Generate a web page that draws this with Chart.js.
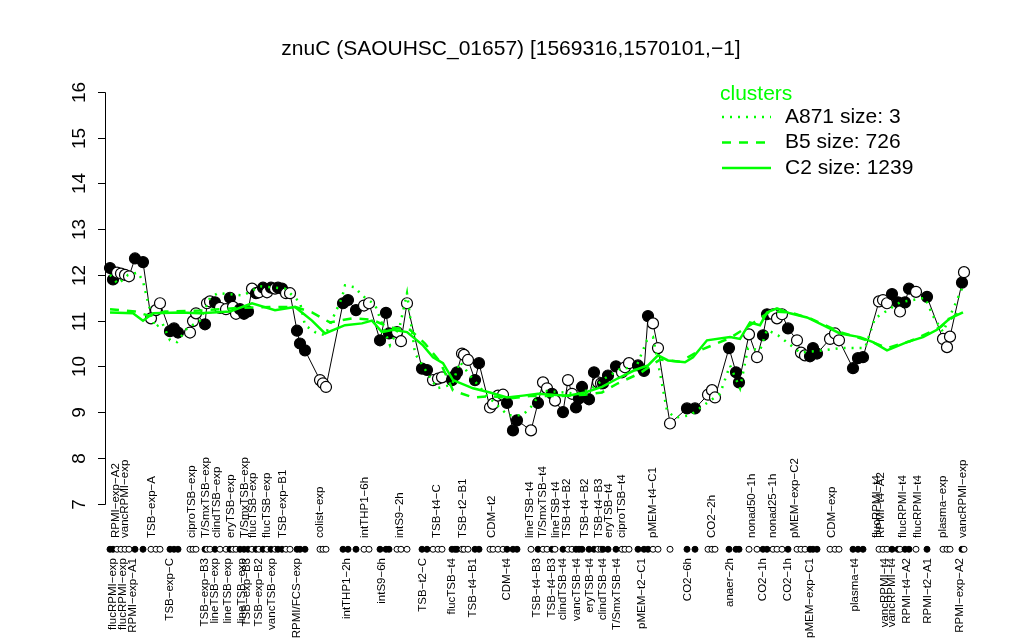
<!DOCTYPE html>
<html>
<head>
<meta charset="utf-8">
<script src="https://cdn.jsdelivr.net/npm/chart.js@4/dist/chart.umd.min.js"></script>
<style>
    html, body { margin: 0; background: #fff; }
</style>
</head>
<body>
<canvas id="chart" width="1024" height="640"></canvas>
<script>
// sample order position, expression value, dark (1) or open (0) marker
const sampleX = [1.0, 1.6, 2.4, 3.2, 4.0, 4.8, 6.0, 7.6, 9.2, 10.2, 11.0, 13.0, 13.8, 14.6, 17.0, 17.6, 18.2,
    20.0, 20.4, 21.0, 22.0, 23.0, 24.2, 25.0, 25.6, 26.2, 27.0, 27.8, 28.6, 29.4, 30.2, 30.8, 31.6, 32.4, 33.2,
    34.0, 34.6, 35.4, 36.2, 37.0, 38.4, 39.0, 40.0, 43.0, 43.6, 44.2, 47.6, 48.6, 50.2, 51.8, 52.8, 55.0, 56.2,
    56.8, 58.4, 59.2, 60.4, 63.4, 64.4, 65.6, 66.6, 67.4, 69.4, 70.0, 70.4, 71.4, 71.8, 72.6, 74.0, 74.8, 77.0,
    77.6, 78.6, 79.6, 80.4, 81.6, 82.4, 85.2, 86.6, 87.6, 88.4, 89.4, 90.0, 91.6, 92.6, 93.4, 94.2, 94.8, 95.4,
    96.8, 97.8, 98.6, 99.2, 99.6, 100.6, 102.2, 103.4, 104.0, 104.8, 106.6, 107.8, 108.6, 109.6, 110.6, 113.0,
    116.4, 118.0, 120.6, 121.4, 122.0, 124.8, 126.2, 126.8, 128.8, 130.4, 131.6, 132.4, 133.6, 134.4, 135.4,
    136.6, 138.4, 139.2, 140.0, 141.0, 141.6, 142.4, 145.0, 146.0, 146.8, 149.6, 150.6, 151.6, 154.8, 155.6,
    156.4, 157.4, 158.6, 159.0, 160.0, 160.8, 162.2, 164.4, 167.6, 168.4, 169.0, 171.4, 171.8];
const sampleValue = [12.15, 11.9, 12.05, 12.03, 12.0, 11.97, 12.36, 12.28, 11.05, 11.23, 11.38, 10.77, 10.83,
    10.74, 10.74, 10.99, 11.16, 10.92, 11.38, 11.42, 11.4, 11.28, 11.25, 11.5, 11.3, 11.15, 11.25, 11.15, 11.2,
    11.7, 11.6, 11.62, 11.72, 11.62, 11.72, 11.7, 11.72, 11.7, 11.6, 11.6, 10.78, 10.5, 10.35, 9.7, 9.63, 9.55,
    11.38, 11.45, 11.23, 11.33, 11.38, 10.57, 11.17, 10.72, 10.75, 10.55, 11.38, 9.95, 9.92, 9.7, 9.73, 9.76,
    9.7, 9.8, 9.87, 10.28, 10.25, 10.14, 9.7, 10.07, 9.1, 9.18, 9.36, 9.38, 9.2, 8.6, 8.82, 8.6, 9.2, 9.65,
    9.52, 9.4, 9.25, 9.0, 9.7, 9.4, 9.1, 9.3, 9.55, 9.28, 9.87, 9.65, 9.63, 9.63, 9.8, 10.0, 9.87, 9.98, 10.07,
    10.02, 9.9, 11.1, 10.94, 10.4, 8.75, 9.08, 9.08, 9.38, 9.48, 9.32, 10.4, 9.87, 9.65, 10.7, 10.2, 10.68,
    11.14, 11.14, 11.05, 11.14, 10.83, 10.57, 10.3, 10.24, 10.22, 10.4, 10.28, 10.6, 10.72, 10.57, 9.96,
    10.18, 10.2, 11.42, 11.45, 11.38, 11.58, 11.4, 11.2, 11.4, 11.7, 11.63, 11.52, 10.6, 10.42, 10.65, 11.83,
    12.06];
const sampleDark = [1, 1, 0, 0, 0, 0, 1, 1, 0, 0, 0, 1, 1, 1, 0, 0, 0, 1, 0, 0, 1, 0, 0, 1, 0, 0, 1, 1, 1,
    0, 1, 0, 1, 0, 1, 0, 1, 1, 0, 0, 1, 1, 1, 0, 0, 0, 1, 1, 1, 0, 0, 1, 1, 1, 0, 0, 0, 1, 1, 0, 0, 0, 1, 1,
    1, 0, 0, 0, 1, 1, 0, 0, 0, 0, 1, 1, 1, 0, 1, 0, 0, 1, 0, 1, 0, 0, 1, 1, 1, 1, 1, 0, 0, 1, 1, 1, 0, 0, 0,
    1, 1, 1, 0, 0, 0, 1, 1, 0, 0, 0, 1, 1, 1, 0, 0, 1, 1, 0, 0, 0, 1, 0, 0, 0, 1, 1, 1, 0, 0, 0, 1, 1, 1, 0,
    0, 0, 1, 1, 0, 1, 1, 0, 1, 0, 0, 0, 1, 0];

// cluster profiles
const clusterA871X = [1.0, 2.6, 4.6, 6.6, 7.6, 8.6, 10.0, 11.4, 13.0, 14.4, 16.4, 19.0, 21.0, 22.6, 27.6, 31.0,
    36.0, 39.0, 40.0, 42.0, 44.0, 46.0, 47.4, 48.0, 50.0, 51.4, 54.0, 57.0, 59.0, 60.4, 62.0, 66.4, 69.4, 71.0,
    73.0, 76.4, 80.6, 83.4, 85.0, 87.4, 94.6, 97.4, 100.0, 103.6, 106.0, 108.4, 109.6, 111.0, 112.4, 114.0,
    117.0, 120.4, 123.0, 125.0, 127.0, 128.6, 131.0, 132.4, 134.6, 139.0, 143.6, 147.0, 152.0, 154.0, 159.0,
    164.0, 165.6, 167.6, 170.6, 171.4];
const clusterA871Y = [12.0, 11.8, 12.0, 12.05, 11.86, 11.4, 10.85, 10.96, 10.57, 10.53, 10.83, 11.0, 11.5,
    11.6, 11.55, 11.75, 11.7, 11.4, 10.9, 10.75, 10.68, 11.16, 11.5, 11.77, 11.73, 11.55, 11.35, 10.46, 10.9,
    11.6, 10.28, 9.52, 9.6, 10.1, 9.8, 9.36, 8.93, 8.93, 9.08, 9.47, 9.4, 9.52, 9.74, 9.98, 9.92, 10.57,
    10.64, 9.85, 9.03, 8.88, 8.93, 9.2, 9.4, 10.02, 9.52, 10.4, 10.35, 10.8, 10.68, 10.3, 10.35, 10.4, 10.4,
    11.05, 11.4, 11.5, 11.1, 10.75, 11.5, 11.7];
const clusterB5X = [1.0, 6.0, 9.0, 12.0, 19.0, 27.0, 33.0, 38.0, 41.4, 45.0, 49.4, 53.4, 57.0, 61.0, 64.0,
    67.0, 69.6, 73.6, 77.0, 81.0, 85.0, 91.0, 96.0, 99.4, 102.6, 107.0, 111.0, 115.0, 119.0, 125.0, 129.0,
    133.0, 137.0, 141.0, 147.0, 153.0, 156.4, 161.0, 167.0, 171.6];
const clusterB5Y = [11.25, 11.2, 11.1, 11.2, 11.22, 11.28, 11.3, 11.3, 11.18, 10.96, 11.05, 11.02, 10.85,
    10.8, 10.5, 10.1, 9.47, 9.32, 9.35, 9.3, 9.35, 9.35, 9.38, 9.43, 9.63, 9.85, 10.15, 10.1, 10.35, 10.62,
    10.9, 11.2, 11.18, 11.05, 10.75, 10.55, 10.4, 10.55, 10.85, 11.25];
const clusterC2X = [1.0, 5.6, 7.6, 9.6, 15.0, 19.0, 25.0, 29.4, 34.0, 38.0, 41.4, 44.0, 48.0, 51.4, 53.4,
    55.4, 57.6, 60.4, 63.6, 65.6, 67.6, 69.6, 73.6, 77.0, 80.4, 83.6, 86.6, 92.6, 96.0, 99.4, 102.6, 106.0,
    108.6, 110.6, 112.6, 116.0, 117.6, 120.4, 125.0, 127.0, 129.0, 131.0, 132.4, 134.4, 137.0, 140.4, 143.6,
    147.0, 151.0, 153.6, 156.4, 160.4, 163.6, 166.4, 169.0, 171.6];
const clusterC2Y = [11.18, 11.16, 11.0, 11.16, 11.18, 11.16, 11.2, 11.38, 11.23, 11.3, 11.0, 10.72, 10.9,
    10.94, 11.0, 10.75, 10.8, 10.75, 10.46, 10.2, 10.07, 9.7, 9.52, 9.43, 9.32, 9.36, 9.4, 9.36, 9.43, 9.55,
    9.74, 9.92, 10.02, 10.24, 10.13, 10.09, 10.2, 10.57, 10.64, 10.6, 10.96, 10.9, 11.18, 11.27, 11.16,
    11.07, 10.9, 10.72, 10.64, 10.53, 10.35, 10.53, 10.64, 10.8, 11.05, 11.18];

// sample group labels above and below the marker strip
const topLabelX = [2.2, 4.0, 9.4, 17.4, 20.2, 22.4, 25.2, 28.0, 29.6, 32.4, 35.6, 43.0, 52.0, 59.0, 66.4,
    71.6, 77.4, 85.0, 87.6, 90.2, 92.4, 96.0, 98.8, 100.8, 103.4, 109.6, 121.4, 129.4, 133.6, 138.0, 145.4,
    154.4, 155.2, 159.6, 162.6, 167.6, 171.6];
const topLabelText = ['RPMI\u2212exp\u2212A2', 'vancRPMI\u2212exp', 'TSB\u2212exp\u2212A', 'ciproTSB\u2212exp',
    'T/SmxTSB\u2212exp', 'clindTSB\u2212exp', 'eryTSB\u2212exp', 'T/SmxTSB\u2212exp', 'flucTSB\u2212exp',
    'flucTSB\u2212exp', 'TSB\u2212exp\u2212B1', 'colist\u2212exp', 'intTHP1\u22126h', 'intS9\u22122h',
    'TSB\u2212t4\u2212C', 'TSB\u2212t2\u2212B1', 'CDM\u2212t2', 'lineTSB\u2212t4', 'T/SmxTSB\u2212t4',
    'lineTSB\u2212t4', 'TSB\u2212t4\u2212B2', 'TSB\u2212t4\u2212B2', 'TSB\u2212t4\u2212B3', 'eryTSB\u2212t4',
    'ciproTSB\u2212t4', 'pMEM\u2212t4\u2212C1', 'CO2\u22122h', 'nonad50\u22121h', 'nonad25\u22121h',
    'pMEM\u2212exp\u2212C2', 'CDM\u2212exp', 'flucRPMI\u2212t4', 'RPMI\u2212t4\u2212A2', 'flucRPMI\u2212t4',
    'flucRPMI\u2212t4', 'plasma\u2212exp', 'vancRPMI\u2212exp'];
const bottomLabelX = [1.6, 3.6, 5.6, 13.0, 20.0, 22.0, 24.6, 27.4, 28.4, 30.8, 33.4, 38.4, 48.4, 55.4, 63.6,
    69.4, 73.6, 80.4, 86.4, 89.4, 91.6, 94.4, 97.0, 99.6, 102.4, 107.4, 116.6, 125.0, 131.6, 136.6, 141.0,
    150.0, 156.0, 157.4, 160.4, 164.6, 171.0];
const bottomLabelText = ['flucRPMI\u2212exp', 'flucRPMI\u2212exp', 'RPMI\u2212exp\u2212A1', 'TSB\u2212exp\u2212C',
    'TSB\u2212exp\u2212B3', 'lineTSB\u2212exp', 'lineTSB\u2212exp', 'lineTSB\u2212exp', 'TSB\u2212exp\u2212B3',
    'TSB\u2212exp\u2212B2', 'vancTSB\u2212exp', 'RPMI/FCS\u2212exp', 'intTHP1\u22122h', 'intS9\u22126h',
    'TSB\u2212t2\u2212C', 'flucTSB\u2212t4', 'TSB\u2212t4\u2212B1', 'CDM\u2212t4', 'TSB\u2212t4\u2212B3',
    'TSB\u2212t4\u2212B3', 'clindTSB\u2212t4', 'vancTSB\u2212t4', 'eryTSB\u2212t4', 'clindTSB\u2212t4',
    'T/SmxTSB\u2212t4', 'pMEM\u2212t2\u2212C1', 'CO2\u22126h', 'anaer\u22122h', 'CO2\u22121h', 'CO2\u22121h',
    'pMEM\u2212exp\u2212C1', 'plasma\u2212t4', 'vancRPMI\u2212t4', 'vancRPMI\u2212t4', 'RPMI\u2212t4\u2212A2',
    'RPMI\u2212t2\u2212A1', 'RPMI\u2212exp\u2212A2'];

const yTicks = [7, 8, 9, 10, 11, 12, 13, 14, 15, 16];
const legendItems = ['A871 size: 3', 'B5 size: 726', 'C2 size: 1239'];
const legendDash = [[2, 6], [9, 8], []];
const stripLevel = 6.0;
const green = '#00ff00';
const FONT = '"Liberation Sans", Arial, sans-serif';

function toPoints(xs, ys) {
    return xs.map((x, i) => ({ x: x, y: ys[i] }));
}

/** Draws the R-style axis, title, legend and group labels. */
const rDecor = {
    id: 'rDecor',
    afterDraw(chart) {
        const ctx = chart.ctx;
        const xs = chart.scales.x;
        const ys = chart.scales.y;
        const axisX = chart.chartArea.left;
        ctx.save();
        ctx.fillStyle = '#000';
        ctx.strokeStyle = '#000';
        ctx.lineWidth = 1;

        // y axis
        ctx.beginPath();
        ctx.moveTo(axisX + 0.5, Math.round(ys.getPixelForValue(7)) + 0.5);
        ctx.lineTo(axisX + 0.5, Math.round(ys.getPixelForValue(16)) + 0.5);
        ctx.stroke();
        ctx.font = '19px ' + FONT;
        ctx.textAlign = 'center';
        ctx.textBaseline = 'middle';
        yTicks.forEach(v => {
            const py = Math.round(ys.getPixelForValue(v)) + 0.5;
            ctx.beginPath();
            ctx.moveTo(axisX - 7, py);
            ctx.lineTo(axisX + 0.5, py);
            ctx.stroke();
            ctx.save();
            ctx.translate(axisX - 25, py);
            ctx.rotate(-Math.PI / 2);
            ctx.fillText(String(v), 0, 0);
            ctx.restore();
        });

        // title
        ctx.font = '21px ' + FONT;
        ctx.textBaseline = 'alphabetic';
        ctx.fillText('znuC (SAOUHSC_01657) [1569316,1570101,\u22121]', 511, 55);

        // legend
        ctx.textAlign = 'left';
        ctx.fillStyle = green;
        ctx.fillText('clusters', 720, 100);
        ctx.fillStyle = '#000';
        ctx.textBaseline = 'middle';
        legendItems.forEach((txt, i) => {
            const py = 117 + i * 25.5;
            ctx.save();
            ctx.strokeStyle = green;
            ctx.lineWidth = 2.5;
            ctx.setLineDash(legendDash[i]);
            ctx.beginPath();
            ctx.moveTo(722, py);
            ctx.lineTo(771, py);
            ctx.stroke();
            ctx.restore();
            ctx.fillText(txt, 785, py);
        });

        // group labels
        ctx.font = '11.5px ' + FONT;
        topLabelText.forEach((txt, i) => {
            ctx.save();
            ctx.translate(xs.getPixelForValue(topLabelX[i]), 538);
            ctx.rotate(-Math.PI / 2);
            ctx.textAlign = 'left';
            ctx.fillText(txt, 0, 0);
            ctx.restore();
        });
        bottomLabelText.forEach((txt, i) => {
            ctx.save();
            ctx.translate(xs.getPixelForValue(bottomLabelX[i]), 558);
            ctx.rotate(-Math.PI / 2);
            ctx.textAlign = 'right';
            ctx.fillText(txt, 0, 0);
            ctx.restore();
        });
        ctx.restore();
    }
};

const markerFill = sampleDark.map(d => d ? '#000' : '#fff');

new Chart(document.getElementById('chart'), {
    type: 'line',
    data: {
        datasets: [
            {
                data: toPoints(clusterA871X, clusterA871Y),
                borderColor: green, borderWidth: 2.5, borderDash: [2, 6],
                pointRadius: 0, fill: false, clip: false, order: 0
            },
            {
                data: toPoints(clusterB5X, clusterB5Y),
                borderColor: green, borderWidth: 2.5, borderDash: [9, 8],
                pointRadius: 0, fill: false, clip: false, order: 1
            },
            {
                data: toPoints(clusterC2X, clusterC2Y),
                borderColor: green, borderWidth: 2.5,
                pointRadius: 0, fill: false, clip: false, order: 2
            },
            {
                data: toPoints(sampleX, sampleValue),
                borderColor: '#000', borderWidth: 1,
                pointRadius: 5.5, pointBorderWidth: 1.2,
                pointBorderColor: '#000', pointBackgroundColor: markerFill,
                fill: false, clip: false, order: 3
            },
            {
                data: sampleX.map(x => ({ x: x, y: stripLevel })),
                showLine: false,
                pointRadius: 3, pointBorderWidth: 1,
                pointBorderColor: '#000', pointBackgroundColor: markerFill,
                clip: false, order: 4
            }
        ]
    },
    options: {
        responsive: false,
        devicePixelRatio: 1,
        animation: false,
        layout: { padding: { left: 105, right: 54, top: 92, bottom: 45 } },
        scales: {
            x: { type: 'linear', min: 0, max: 173, display: false },
            y: { min: 5, max: 16, display: false }
        },
        plugins: {
            legend: { display: false },
            tooltip: { enabled: false }
        }
    },
    plugins: [rDecor]
});
</script>
</body>
</html>
